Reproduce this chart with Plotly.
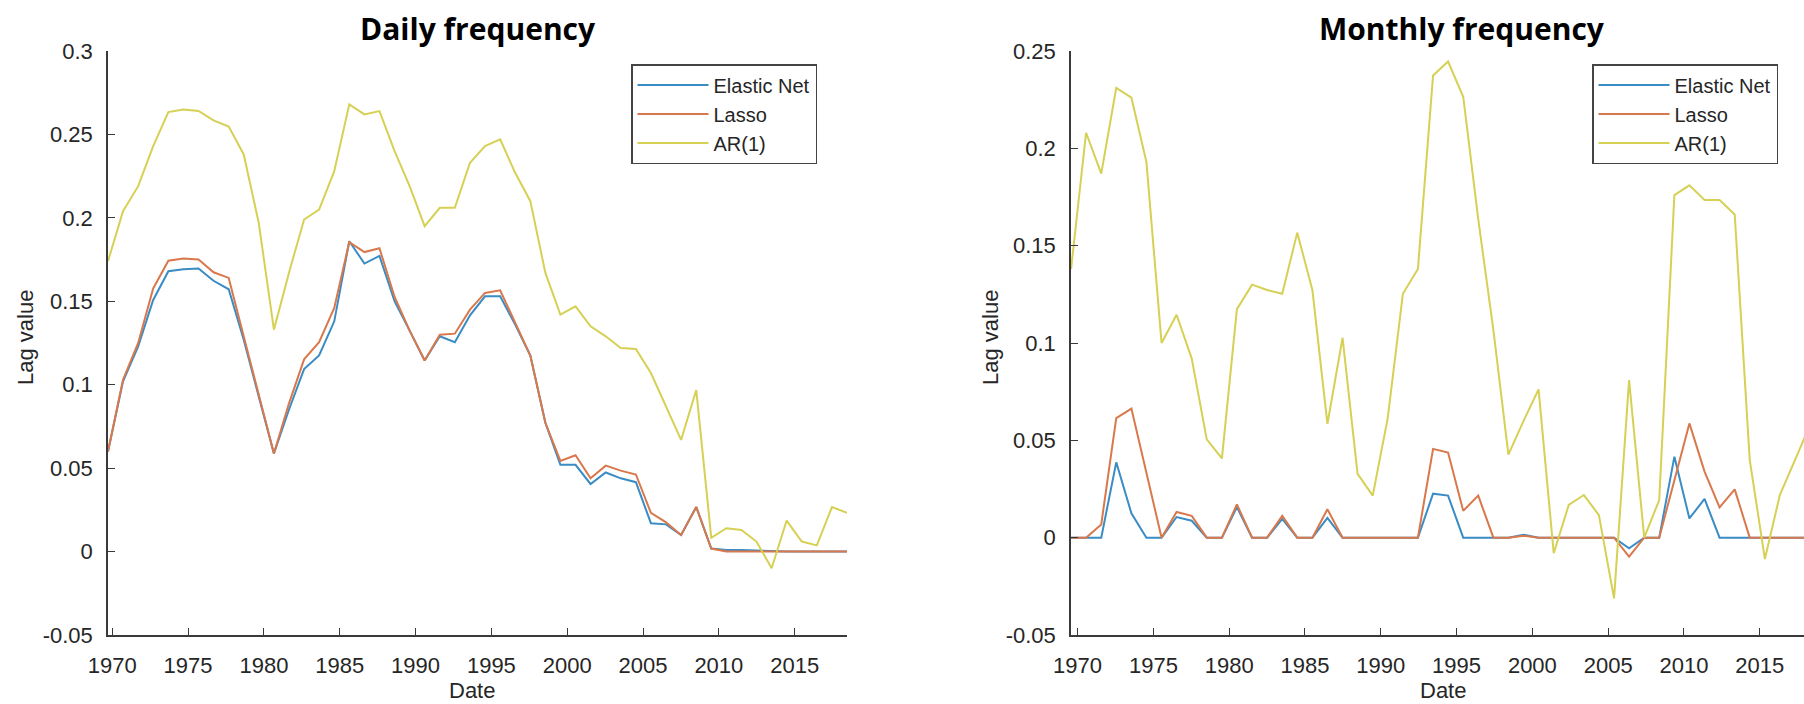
import plotly.graph_objects as go

# Observation dates (decimal years) for each panel
daily_dates = [1969.72, 1970.71, 1971.71, 1972.70, 1973.70, 1974.69, 1975.69, 1976.68, 1977.68, 1978.67,
               1979.66, 1980.66, 1981.65, 1982.65, 1983.64, 1984.64, 1985.63, 1986.63, 1987.62, 1988.62,
               1989.61, 1990.60, 1991.60, 1992.59, 1993.59, 1994.58, 1995.58, 1996.57, 1997.57, 1998.56,
               1999.55, 2000.55, 2001.54, 2002.54, 2003.53, 2004.53, 2005.52, 2006.52, 2007.51, 2008.51,
               2009.50, 2010.49, 2011.49, 2012.48, 2013.48, 2014.47, 2015.47, 2016.46, 2017.46, 2018.45]

monthly_dates = [1969.57, 1970.56, 1971.56, 1972.55, 1973.55, 1974.54, 1975.54, 1976.53, 1977.53, 1978.52,
                 1979.52, 1980.51, 1981.51, 1982.50, 1983.50, 1984.49, 1985.49, 1986.48, 1987.48, 1988.47,
                 1989.47, 1990.46, 1991.46, 1992.45, 1993.45, 1994.44, 1995.44, 1996.43, 1997.43, 1998.42,
                 1999.42, 2000.41, 2001.41, 2002.40, 2003.40, 2004.39, 2005.39, 2006.38, 2007.38, 2008.37,
                 2009.37, 2010.36, 2011.36, 2012.35, 2013.35, 2014.34, 2015.34, 2016.33, 2017.33, 2018.32]

# Daily frequency lag values
daily_enet = [0.060, 0.102, 0.123, 0.1508, 0.168, 0.1692, 0.1697, 0.1623, 0.1572, 0.127,
              0.093, 0.0588, 0.085, 0.1094, 0.1175, 0.138, 0.186, 0.1726, 0.1772, 0.150,
              0.1324, 0.1145, 0.129, 0.1255, 0.1416, 0.153, 0.153, 0.136, 0.1175, 0.0772,
              0.052, 0.052, 0.0405, 0.0474, 0.0439, 0.0416, 0.017, 0.0163, 0.0099, 0.0267,
              0.0018, 0.001, 0.001, 0.0007, 0.0, 0.0, 0.0, 0.0, 0.0, 0.0]
daily_lasso = [0.060, 0.103, 0.125, 0.1577, 0.1743, 0.1756, 0.175, 0.1674, 0.164, 0.129,
               0.093, 0.0588, 0.0887, 0.1152, 0.1255, 0.146, 0.1855, 0.1795, 0.1818, 0.1526,
               0.1324, 0.1145, 0.130, 0.1306, 0.145, 0.155, 0.1566, 0.137, 0.1175, 0.0772,
               0.0543, 0.0577, 0.0439, 0.0515, 0.0485, 0.0462, 0.0232, 0.0175, 0.0099, 0.0267,
               0.0018, 0.0, 0.0, 0.0, 0.0, 0.0, 0.0, 0.0, 0.0, 0.0]
daily_ar1 = [0.174, 0.204, 0.219, 0.243, 0.2634, 0.265, 0.2641, 0.2584, 0.2547, 0.238,
             0.197, 0.133, 0.167, 0.199, 0.205, 0.228, 0.268, 0.262, 0.264, 0.240,
             0.219, 0.195, 0.206, 0.206, 0.233, 0.243, 0.247, 0.227, 0.210, 0.167,
             0.142, 0.147, 0.135, 0.129, 0.122, 0.1214, 0.107, 0.0864, 0.0669, 0.0968,
             0.0083, 0.014, 0.0129, 0.006, -0.010, 0.0186, 0.006, 0.0037, 0.0267, 0.0232]

# Monthly frequency lag values
monthly_enet = [0.0, 0.0, 0.0, 0.0387, 0.0125, 0.0, 0.0, 0.0106, 0.0087, 0.0,
                0.0, 0.0157, 0.0, 0.0, 0.0096, 0.0, 0.0, 0.0102, 0.0, 0.0,
                0.0, 0.0, 0.0, 0.0, 0.0226, 0.0216, 0.0, 0.0, 0.0, 0.0,
                0.0015, 0.0, 0.0, 0.0, 0.0, 0.0, 0.0, -0.0055, 0.0, 0.0,
                0.0416, 0.0099, 0.0199, 0.0, 0.0, 0.0, 0.0, 0.0, 0.0, 0.0]
monthly_lasso = [0.0, 0.0, 0.0068, 0.0614, 0.0663, 0.033, 0.0, 0.0132, 0.0112, 0.0,
                 0.0, 0.0171, 0.0, 0.0, 0.0112, 0.0, 0.0, 0.0146, 0.0, 0.0,
                 0.0, 0.0, 0.0, 0.0, 0.0456, 0.0437, 0.0138, 0.0216, 0.0, 0.0,
                 0.0010, 0.0, 0.0, 0.0, 0.0, 0.0, 0.0, -0.0098, 0.0, 0.0,
                 0.029, 0.0587, 0.0339, 0.0156, 0.0248, 0.0, 0.0, 0.0, 0.0, 0.0]
monthly_ar1 = [0.138, 0.208, 0.187, 0.231, 0.226, 0.193, 0.100, 0.1145, 0.092, 0.0505,
               0.0407, 0.1174, 0.130, 0.1272, 0.1253, 0.1567, 0.1272, 0.0584, 0.1027, 0.0328,
               0.0216, 0.0614, 0.1253, 0.138, 0.2374, 0.2446, 0.2265, 0.1636, 0.1066, 0.0427,
               0.060, 0.0762, -0.008, 0.0168, 0.0219, 0.0116, -0.0312, 0.081, 0.000, 0.0193,
               0.176, 0.181, 0.1735, 0.1735, 0.166, 0.040, -0.011, 0.022, 0.040, 0.058]

series_names = ["Elastic Net", "Lasso", "AR(1)"]
series_colors = ["#3a8cc4", "#d9784c", "#d6d054"]

x_tick_vals = [1970, 1975, 1980, 1985, 1990, 1995, 2000, 2005, 2010, 2015]
x_tick_text = ["1970", "1975", "1980", "1985", "1990", "1995", "2000", "2005", "2010", "2015"]
daily_y_ticks = [-0.05, 0.0, 0.05, 0.1, 0.15, 0.2, 0.25, 0.3]
daily_y_text = ["-0.05", "0", "0.05", "0.1", "0.15", "0.2", "0.25", "0.3"]
monthly_y_ticks = [-0.05, 0.0, 0.05, 0.1, 0.15, 0.2, 0.25]
monthly_y_text = ["-0.05", "0", "0.05", "0.1", "0.15", "0.2", "0.25"]

W, H = 1804, 704
FONT = "Liberation Sans, Arial, Helvetica, sans-serif"
AXIS_COLOR = "#3a3a3a"
TEXT_COLOR = "#262626"

fig = go.Figure()

panels = [
    ("x", "y", "legend", daily_dates, [daily_enet, daily_lasso, daily_ar1]),
    ("x2", "y2", "legend2", monthly_dates, [monthly_enet, monthly_lasso, monthly_ar1]),
]
for xa, ya, lg, dates, values in panels:
    for name, color, vals in zip(series_names, series_colors, values):
        fig.add_trace(go.Scatter(
            x=dates, y=vals, mode="lines", name=name,
            line=dict(color=color, width=2),
            xaxis=xa, yaxis=ya, legend=lg,
        ))

def px_x(p):
    return p / W

def px_y(p):
    return (H - p) / H

y_dom = [px_y(635), px_y(51)]

axis_common = dict(
    showline=True, linecolor=AXIS_COLOR, linewidth=1.5, mirror=False,
    showgrid=False, zeroline=False, automargin=False,
    ticks="inside", ticklen=7, tickwidth=1.3, tickcolor=AXIS_COLOR,
    tickfont=dict(family=FONT, size=22, color=TEXT_COLOR),
)

legend_common = dict(
    xanchor="left", yanchor="top",
    bgcolor="white", bordercolor="#444444", borderwidth=1.5,
    font=dict(family=FONT, size=20, color=TEXT_COLOR),
    itemwidth=71, tracegroupgap=0,
)

fig.update_layout(
    template="none",
    width=W, height=H,
    margin=dict(l=0, r=0, t=0, b=0, autoexpand=False),
    paper_bgcolor="white", plot_bgcolor="white",
    showlegend=True,
    xaxis=dict(domain=[px_x(108), px_x(847)], range=[1969.72, 2018.45], anchor="y",
               tickmode="array", tickvals=x_tick_vals, ticktext=x_tick_text,
               ticklabelstandoff=10, **axis_common),
    yaxis=dict(domain=y_dom, range=[-0.05, 0.3], anchor="x",
               tickmode="array", tickvals=daily_y_ticks, ticktext=daily_y_text,
               ticklabelstandoff=9, **axis_common),
    xaxis2=dict(domain=[px_x(1071), 1.0], range=[1969.565, 2017.92], anchor="y2",
                tickmode="array", tickvals=x_tick_vals, ticktext=x_tick_text,
                ticklabelstandoff=10, **axis_common),
    yaxis2=dict(domain=y_dom, range=[-0.05, 0.25], anchor="x2",
                tickmode="array", tickvals=monthly_y_ticks, ticktext=monthly_y_text,
                ticklabelstandoff=9, **axis_common),
    legend=dict(x=px_x(631), y=px_y(64), **legend_common),
    legend2=dict(x=px_x(1592), y=px_y(64), **legend_common),
)

title_font = dict(family="Open Sans, Lato, sans-serif", size=30, color="black", weight="bold")
label_font = dict(family=FONT, size=22, color=TEXT_COLOR)

annotations = [
    dict(text="Daily frequency", x=px_x(478), y=px_y(29), font=title_font),
    dict(text="Monthly frequency", x=px_x(1462), y=px_y(29), font=title_font),
    dict(text="Date", x=px_x(472), y=px_y(690), font=label_font),
    dict(text="Date", x=px_x(1443), y=px_y(690), font=label_font),
    dict(text="Lag value", x=px_x(25), y=px_y(338), font=label_font, textangle=-90),
    dict(text="Lag value", x=px_x(990), y=px_y(338), font=label_font, textangle=-90),
]
for a in annotations:
    fig.add_annotation(xref="paper", yref="paper", xanchor="center", yanchor="middle",
                       showarrow=False, **a)

fig.write_html("out.html")
